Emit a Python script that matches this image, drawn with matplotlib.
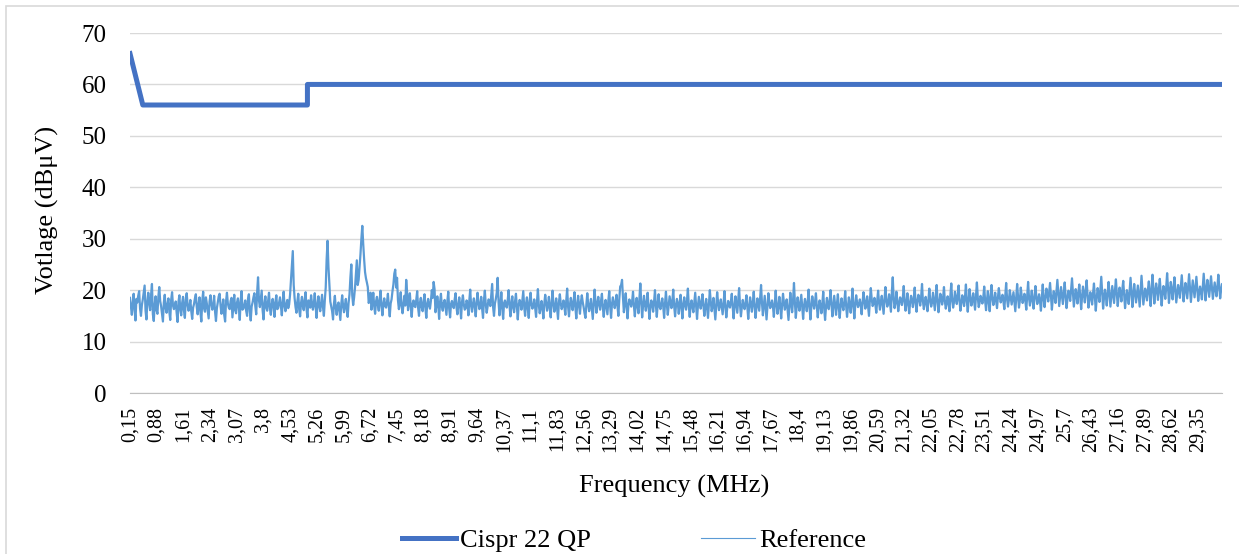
import numpy as np
import matplotlib.pyplot as plt
from matplotlib.patches import Rectangle

plt.rcParams['font.family'] = ['Liberation Serif', 'DejaVu Serif']

# CISPR 22 QP limit (MHz, dBuV)
lim_f = [0.15, 0.5, 5.0, 5.0, 30.0]
lim_v = [66, 56, 56, 60, 60]

ref_0_5 = [18.5, 15.2, 19.3, 14.1, 17.6, 19.8, 15.0, 18.2, 20.9, 14.3,
           19.5, 16.1, 21.2, 14.0, 18.8, 15.4, 20.6, 16.9, 13.9, 19.1,
           15.6, 18.4, 14.2, 19.6, 16.3, 17.8, 13.8, 19.0, 15.1, 18.7,
           14.6, 19.4, 16.0, 18.1, 14.4, 17.3, 19.2, 15.3, 18.6, 13.9,
           19.7, 15.8, 17.4, 14.5, 19.0, 16.2, 18.9, 14.0, 17.7, 19.3,
           15.4, 18.2, 13.9, 19.5, 16.6, 17.9, 14.7, 19.1, 15.5, 18.4,
           14.2, 19.8, 16.4, 18.0, 15.0, 19.2, 14.1, 17.6, 19.4, 15.3,
           22.5, 16.7, 19.9, 14.3, 18.8, 16.0, 19.5, 15.2, 18.3, 14.8,
           19.0, 16.5, 18.6, 15.1, 19.7, 15.9, 18.1, 17.2, 22.0, 27.6,
           18.4, 15.6, 19.3, 14.9, 18.7, 16.1, 19.6, 14.7, 17.9, 19.0]
ref_5_10 = [16.2, 19.4, 14.6, 18.8, 15.9, 19.1, 15.0, 20.5, 29.6, 21.0,
            16.8, 14.3, 18.9, 15.2, 17.6, 14.2, 19.0, 15.7, 18.3, 14.8,
            19.2, 25.0, 17.1, 20.4, 25.8, 22.0, 27.0, 32.5, 26.0, 22.3,
            20.6, 18.1, 16.2, 19.5, 15.4, 18.7, 16.0, 19.9, 15.1, 18.4,
            16.6, 19.3, 14.9, 18.2, 21.1, 24.0, 22.4, 16.3, 19.6, 15.5,
            18.9, 22.0, 16.1, 19.4, 14.8, 18.0, 16.7, 19.8, 15.0, 18.5,
            15.9, 19.2, 14.6, 18.3, 16.4, 20.0, 21.6, 15.7, 18.8, 14.4,
            19.3, 16.0, 18.1, 15.2, 19.7, 14.7, 17.9, 16.5, 19.4, 15.3,
            18.6, 14.5, 19.0, 16.2, 18.0, 15.1, 20.1, 15.8, 18.4, 14.9,
            19.5, 16.3, 18.7, 14.6, 19.9, 15.6, 18.2, 16.9, 21.2, 15.0]
ref_10_15 = [18.3, 22.4, 15.1, 19.6, 14.4, 18.0, 16.6, 20.0, 14.9, 18.8,
             15.7, 19.3, 14.3, 18.1, 16.2, 19.8, 15.0, 18.6, 14.6, 19.5,
             16.4, 18.2, 14.8, 20.2, 15.5, 17.9, 14.5, 19.1, 16.0, 18.7,
             14.7, 19.9, 15.8, 18.4, 14.4, 19.2, 16.3, 18.0, 15.2, 20.3,
             14.9, 18.5, 16.1, 19.6, 14.5, 18.9, 15.4, 19.0, 16.7, 14.6,
             19.4, 15.9, 18.3, 14.4, 20.1, 15.6, 18.7, 16.2, 19.3, 14.8,
             18.1, 15.3, 19.8, 14.6, 18.6, 16.5, 19.1, 15.0, 20.7, 22.0,
             15.7, 19.4, 14.5, 18.2, 16.8, 19.7, 14.9, 18.5, 15.5, 21.3,
             14.7, 18.9, 16.0, 19.5, 14.4, 18.0, 15.8, 20.0, 14.8, 19.2,
             16.3, 18.4, 14.6, 19.7, 15.2, 18.8, 16.5, 20.1, 14.9, 18.3]
ref_15_20 = [15.4, 19.1, 14.5, 18.6, 16.2, 20.3, 14.8, 18.0, 15.7, 19.5,
             14.4, 18.7, 16.4, 19.2, 15.0, 18.3, 14.6, 20.0, 15.9, 18.5,
             14.3, 19.6, 16.1, 18.2, 15.3, 19.8, 14.7, 17.9, 16.6, 19.3,
             14.5, 18.8, 15.6, 20.4, 14.9, 18.1, 16.3, 19.0, 14.4, 18.6,
             15.8, 19.7, 14.6, 18.4, 16.0, 21.0, 15.1, 18.9, 14.3, 19.4,
             16.5, 18.0, 14.8, 19.9, 15.4, 18.7, 14.5, 19.3, 16.2, 18.2,
             14.2, 19.5, 15.7, 21.4, 14.6, 18.6, 16.0, 19.1, 14.4, 18.3,
             15.9, 20.1, 14.3, 18.8, 16.4, 19.4, 14.7, 18.0, 15.5, 19.7,
             14.2, 18.5, 16.3, 20.0, 14.9, 18.9, 15.2, 19.2, 14.6, 18.4,
             16.1, 19.8, 14.8, 18.6, 15.6, 20.3, 14.5, 19.0, 16.7, 18.2]
ref_20_25 = [15.3, 19.6, 16.4, 18.8, 15.0, 20.4, 16.9, 18.5, 15.6, 19.9,
             16.2, 18.9, 15.4, 20.6, 16.8, 19.2, 15.8, 22.5, 16.5, 19.7,
             15.9, 18.6, 17.1, 20.8, 16.0, 19.4, 15.5, 18.9, 16.7, 20.5,
             15.8, 19.1, 17.0, 21.2, 16.3, 18.7, 15.9, 20.3, 16.8, 19.5,
             16.1, 21.0, 15.7, 19.3, 17.2, 20.6, 16.4, 18.8, 15.9, 21.3,
             16.6, 19.7, 17.3, 20.9, 16.0, 19.0, 16.9, 21.1, 15.8, 20.2,
             17.0, 19.4, 16.2, 21.5, 16.7, 18.9, 17.4, 20.7, 16.1, 19.8,
             15.9, 21.0, 17.1, 19.5, 16.5, 20.4, 17.6, 19.1, 16.3, 21.4,
             16.8, 20.0, 17.2, 19.6, 15.9, 21.2, 16.6, 20.5, 17.5, 19.3,
             16.2, 21.6, 17.0, 19.9, 16.4, 20.8, 17.3, 19.2, 16.0, 21.1]
ref_25_30 = [16.7, 20.3, 17.8, 21.4, 16.2, 19.8, 17.5, 22.0, 16.9, 20.6,
             17.3, 21.5, 16.5, 19.9, 17.9, 22.3, 16.8, 20.2, 17.4, 21.1,
             16.3, 20.7, 17.6, 21.9, 16.6, 19.6, 17.2, 21.3, 16.0, 20.4,
             17.7, 22.6, 16.4, 20.1, 17.0, 21.6, 16.8, 20.8, 17.5, 22.1,
             16.9, 20.5, 17.8, 21.8, 16.5, 20.0, 17.3, 22.4, 16.7, 21.2,
             17.6, 20.9, 16.8, 22.8, 17.2, 20.3, 18.0, 21.7, 16.9, 23.0,
             17.4, 21.3, 18.1, 22.2, 17.0, 20.8, 18.3, 23.3, 17.5, 21.6,
             18.2, 22.5, 17.6, 21.0, 18.5, 22.9, 17.8, 21.4, 18.4, 23.1,
             17.7, 21.9, 18.6, 22.6, 17.9, 20.7, 18.2, 23.2, 18.0, 22.0,
             18.7, 22.7, 18.3, 21.5, 18.8, 23.0, 18.4, 21.2]

# the in-between samples (0.175, 0.225, ... MHz)
mid_0_5 = [16.9, 17.4, 16.2, 18.3, 18.9, 16.4, 17.1, 19.6, 16.0, 17.8,
           17.5, 19.0, 15.3, 17.2, 16.1, 18.7, 17.9, 15.4, 17.6, 16.5,
           17.3, 15.8, 18.1, 17.0, 16.9, 15.6, 17.7, 16.2, 17.5, 16.0,
           18.2, 17.1, 16.8, 15.9, 16.6, 18.4, 16.7, 17.2, 15.7, 17.9,
           16.4, 18.6, 15.9, 17.8, 17.3, 16.9, 15.8, 16.5, 18.8, 17.0,
           16.7, 15.2, 17.8, 17.4, 16.3, 18.5, 17.0, 16.1, 17.6, 16.6,
           17.9, 16.2, 17.1, 16.0, 18.3, 15.9, 16.8, 18.6, 16.9, 19.5,
           18.0, 18.3, 16.1, 17.4, 16.6, 17.9, 16.4, 17.2, 16.9, 17.7,
           16.3, 17.5, 16.8, 17.6, 16.9, 17.3, 16.5, 19.1, 25.0, 21.0,
           16.7, 17.8, 16.2, 17.5, 16.9, 18.2, 16.4, 18.0, 16.6, 17.4]
mid_5_10 = [17.3, 16.8, 17.2, 16.9, 17.6, 16.7, 18.0, 26.0, 24.5, 17.8,
            15.9, 17.4, 16.6, 17.0, 15.8, 17.3, 16.9, 17.1, 16.2, 17.5,
            22.5, 19.0, 18.5, 23.0, 21.0, 24.5, 30.0, 29.0, 23.5, 21.5,
            17.5, 19.5, 17.4, 16.9, 17.8, 17.1, 18.2, 16.8, 17.3, 16.9,
            17.7, 16.8, 17.4, 19.8, 23.2, 20.5, 18.0, 17.6, 16.9, 17.2,
            17.0, 19.6, 17.6, 16.8, 17.3, 16.9, 18.1, 16.6, 17.5, 16.7,
            17.8, 16.5, 17.4, 17.0, 17.9, 18.5, 20.2, 16.9, 17.3, 17.6,
            16.8, 17.5, 16.7, 17.9, 16.4, 17.3, 17.1, 18.2, 16.6, 17.2,
            16.9, 17.7, 17.2, 16.5, 17.4, 18.0, 16.9, 17.3, 16.8, 17.5,
            17.6, 16.9, 16.4, 18.1, 17.2, 16.8, 17.9, 19.0, 16.7, 17.4]
mid_10_15 = [19.5, 17.6, 17.2, 16.5, 17.5, 17.0, 18.1, 16.9, 17.4, 16.6,
             17.8, 16.7, 17.1, 17.6, 18.0, 16.8, 17.3, 16.4, 17.9, 17.2,
             17.0, 16.6, 17.8, 17.1, 16.6, 16.3, 17.4, 17.5, 17.0, 16.5,
             17.6, 17.3, 16.9, 16.5, 17.7, 17.4, 17.0, 16.7, 18.0, 16.8,
             17.1, 17.4, 17.7, 16.6, 17.3, 17.0, 17.6, 17.7, 15.5, 17.2,
             17.3, 16.8, 16.4, 17.5, 17.6, 17.3, 17.2, 17.9, 16.6, 17.0,
             16.7, 17.9, 16.9, 17.3, 17.5, 17.6, 16.9, 18.3, 21.0, 18.6,
             17.4, 16.8, 17.1, 17.6, 17.8, 16.9, 17.2, 16.8, 18.5, 17.6,
             17.0, 17.3, 17.6, 16.7, 16.8, 17.2, 17.7, 17.1, 17.3, 16.8,
             17.4, 16.9, 17.4, 17.2, 17.1, 17.6, 17.9, 16.9, 17.0, 17.5]
mid_15_20 = [17.2, 16.6, 17.3, 17.0, 18.0, 16.9, 17.1, 16.7, 17.5, 16.8,
             17.0, 17.5, 17.6, 16.9, 16.8, 16.5, 17.4, 17.8, 17.0, 16.4,
             17.1, 17.7, 17.0, 16.8, 17.4, 16.9, 16.5, 17.2, 17.8, 16.7,
             16.9, 17.2, 17.9, 17.1, 16.7, 17.0, 17.5, 16.6, 16.8, 17.3,
             17.6, 16.9, 16.7, 17.2, 18.4, 17.5, 16.9, 16.6, 17.0, 17.7,
             17.1, 16.8, 17.5, 17.2, 16.8, 16.9, 17.1, 17.6, 17.0, 16.3,
             16.9, 17.4, 18.1, 17.6, 16.9, 17.1, 17.5, 16.8, 16.9, 17.2,
             17.8, 16.6, 16.9, 17.5, 17.7, 16.8, 16.7, 17.0, 17.4, 16.5,
             16.7, 17.3, 17.9, 17.2, 16.8, 17.0, 17.4, 16.6, 16.9, 17.1,
             17.6, 17.0, 16.8, 17.3, 17.7, 16.9, 17.1, 17.6, 17.2, 17.0]
mid_20_25 = [17.6, 17.9, 17.3, 16.8, 18.1, 18.3, 17.4, 17.2, 18.0, 17.6,
             17.8, 17.2, 18.2, 18.0, 17.5, 17.4, 19.6, 18.3, 17.6, 17.9,
             17.4, 18.2, 18.5, 17.7, 17.6, 17.3, 17.6, 18.1, 18.4, 17.5,
             17.9, 18.3, 18.6, 17.8, 17.5, 17.4, 18.2, 18.0, 17.6, 17.8,
             18.7, 17.9, 17.6, 18.5, 18.4, 17.8, 17.5, 17.6, 18.9, 18.0,
             17.7, 18.6, 18.8, 17.9, 17.5, 18.2, 18.7, 17.9, 18.1, 18.4,
             18.0, 17.8, 18.9, 18.5, 17.6, 18.3, 18.6, 17.9, 18.1, 17.7,
             18.8, 18.4, 18.0, 17.9, 18.6, 18.7, 18.2, 17.8, 18.9, 18.3,
             18.1, 18.6, 18.4, 17.7, 18.5, 18.7, 18.0, 18.8, 18.2, 17.9,
             18.9, 18.5, 18.3, 18.0, 18.6, 18.8, 18.1, 17.9, 18.7, 18.4]
mid_25_30 = [18.6, 19.2, 19.5, 18.8, 18.4, 18.9, 19.8, 19.3, 18.7, 19.0,
             19.4, 18.8, 18.2, 19.6, 20.1, 19.4, 18.5, 18.9, 19.7, 18.6,
             18.7, 19.3, 19.9, 19.0, 18.3, 18.5, 19.4, 18.6, 18.4, 19.2,
             20.3, 19.5, 18.6, 18.8, 19.5, 19.1, 18.9, 19.2, 20.0, 19.3,
             18.9, 19.4, 20.1, 19.0, 18.4, 18.8, 19.9, 19.6, 19.1, 19.5,
             19.3, 18.8, 19.9, 20.0, 18.7, 19.3, 20.1, 19.2, 20.2, 20.1,
             19.6, 19.9, 20.3, 19.5, 19.2, 19.8, 20.6, 20.4, 19.7, 20.0,
             20.5, 20.0, 19.4, 19.9, 20.7, 20.2, 19.8, 19.9, 20.8, 20.4,
             19.8, 20.3, 20.6, 20.1, 19.5, 19.6, 20.8, 20.5, 20.2, 20.3,
             20.8, 20.5, 19.9, 20.2, 20.7, 20.6, 20.0, 20.4]

on_grid = ref_0_5 + ref_5_10 + ref_10_15 + ref_15_20 + ref_20_25 + ref_25_30
between = mid_0_5 + mid_5_10 + mid_10_15 + mid_15_20 + mid_20_25 + mid_25_30
ref_v = np.column_stack([on_grid, between]).ravel()
ref_f = np.round(0.15 + 0.025 * np.arange(len(ref_v)), 3)

tick_f = np.round(0.15 + 0.73 * np.arange(41), 2)
tick_lab = [('%g' % t).replace('.', ',') for t in tick_f]

fig = plt.figure(figsize=(12.39, 5.54), dpi=100)
ax = fig.add_axes([130 / 1239, 1 - 393 / 554, (1222 - 130) / 1239, 360 / 554])

ax.plot(lim_f, lim_v, color='#4472C4', lw=3.6, label='Cispr 22 QP', zorder=3)
ax.plot(ref_f, ref_v, color='#5B9BD5', lw=1.6, label='Reference', zorder=4)

ax.set_xlim(0.15, 30.0)
ax.set_ylim(0, 70)
ax.set_yticks(range(0, 71, 10))
ax.set_xticks(tick_f)
ax.set_xticklabels(tick_lab, rotation=90, fontsize=14.5)
ax.tick_params(axis='x', length=0, pad=10)
ax.tick_params(axis='y', length=0, pad=17, labelsize=18)
ax.grid(axis='y', color='#D9D9D9', lw=1.0)
ax.set_axisbelow(True)
for s in ['left', 'right', 'top']:
    ax.spines[s].set_visible(False)
ax.spines['bottom'].set_color('#BFBFBF')

fig.text(674 / 1239, 1 - 486 / 554, 'Frequency (MHz)', fontsize=19, ha='center', va='center')
fig.text(47 / 1239, 1 - 210 / 554, 'Votlage (dBμV)', fontsize=19, rotation=90, ha='center', va='center')

leg = fig.legend(loc='center', bbox_to_anchor=(634 / 1239, 1 - 540 / 554), ncol=2, frameon=False,
                 fontsize=19, handlelength=2.05, handletextpad=0.15, columnspacing=4.2)
leg.get_lines()[1].set_linewidth(0.8)

fig.patches.append(Rectangle((6 / 1239, -0.1), 1.2, 1 - 6 / 554 + 0.1, transform=fig.transFigure,
                             fill=False, edgecolor='#D9D9D9', lw=1.2, clip_on=False))

fig.savefig('out.png', dpi=100)
